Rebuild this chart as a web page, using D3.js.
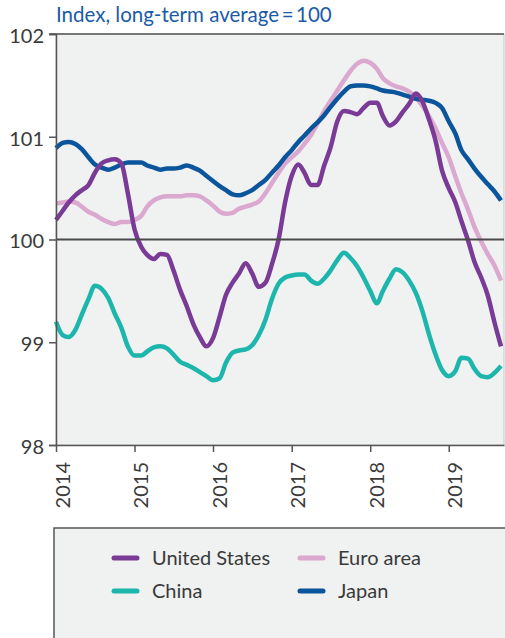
<!DOCTYPE html>
<html>
<head>
<meta charset="utf-8">
<script src="https://cdn.jsdelivr.net/npm/d3@7"></script>
<style>
  body { margin: 0; background: #fff; }
  svg { display: block; font-family: Lato, "Open Sans", sans-serif; }
</style>
</head>
<body>
<svg id="chart" width="505" height="638"></svg>
<script>
// monthly, Jan 2014 .. Sep 2019
const months = d3.timeMonth.range(new Date(2014, 0, 1), new Date(2019, 9, 1));

const usValues = [
  100.19, 100.28, 100.36, 100.43, 100.48, 100.53, 100.65, 100.74, 100.77, 100.78,
  100.74, 100.45, 100.10, 99.93, 99.85, 99.81, 99.86, 99.85, 99.70, 99.51,
  99.35, 99.18, 99.05, 98.96, 99.04, 99.25, 99.46, 99.58, 99.67, 99.77,
  99.67, 99.54, 99.58, 99.76, 100.00, 100.36, 100.62, 100.73, 100.65, 100.53,
  100.53, 100.72, 100.90, 101.15, 101.25, 101.24, 101.22, 101.28, 101.33, 101.33,
  101.20, 101.11, 101.15, 101.24, 101.32, 101.42, 101.34, 101.17, 100.96, 100.67,
  100.50, 100.36, 100.18, 99.99, 99.78, 99.63, 99.46, 99.20, 98.96
];
const euroValues = [
  100.35, 100.36, 100.37, 100.36, 100.32, 100.27, 100.24, 100.20, 100.17, 100.15,
  100.17, 100.17, 100.19, 100.23, 100.32, 100.38, 100.41, 100.42, 100.42, 100.42,
  100.43, 100.43, 100.42, 100.38, 100.33, 100.27, 100.25, 100.26, 100.30, 100.32,
  100.34, 100.37, 100.45, 100.55, 100.65, 100.74, 100.80, 100.86, 100.93, 101.02,
  101.13, 101.25, 101.35, 101.45, 101.55, 101.64, 101.71, 101.74, 101.72, 101.66,
  101.57, 101.52, 101.49, 101.47, 101.44, 101.38, 101.30, 101.20, 101.08, 100.94,
  100.80, 100.61, 100.45, 100.29, 100.12, 99.98, 99.86, 99.75, 99.60
];
const chinaValues = [
  99.20, 99.07, 99.05, 99.12, 99.27, 99.42, 99.55, 99.52, 99.43, 99.28,
  99.14, 98.96, 98.87, 98.87, 98.91, 98.95, 98.96, 98.94, 98.88, 98.81,
  98.78, 98.75, 98.71, 98.67, 98.63, 98.65, 98.80, 98.90, 98.92, 98.93,
  98.97, 99.07, 99.22, 99.42, 99.57, 99.63, 99.65, 99.66, 99.66, 99.60,
  99.57, 99.62, 99.70, 99.80, 99.87, 99.82, 99.74, 99.63, 99.50, 99.38,
  99.50, 99.62, 99.71, 99.68, 99.60, 99.48, 99.30, 99.08, 98.88, 98.73,
  98.67, 98.72, 98.85, 98.84, 98.74, 98.67, 98.66, 98.70, 98.77
];
const japanValues = [
  100.89, 100.94, 100.95, 100.93, 100.88, 100.80, 100.73, 100.70, 100.68, 100.70,
  100.73, 100.75, 100.75, 100.75, 100.72, 100.70, 100.68, 100.69, 100.69, 100.70,
  100.72, 100.70, 100.67, 100.62, 100.57, 100.52, 100.48, 100.44, 100.43, 100.45,
  100.48, 100.53, 100.58, 100.65, 100.72, 100.80, 100.87, 100.95, 101.01, 101.08,
  101.14, 101.21, 101.29, 101.37, 101.44, 101.49, 101.50, 101.50, 101.49, 101.47,
  101.45, 101.44, 101.43, 101.41, 101.39, 101.37, 101.36, 101.35, 101.33, 101.28,
  101.15, 101.03, 100.87, 100.78, 100.69, 100.61, 100.54, 100.47, 100.38
];

const yearTicks = ["2014", "2015", "2016", "2017", "2018", "2019"];
const valueTicks = [98, 99, 100, 101, 102];
const seriesNames = ["United States", "Euro area", "China", "Japan"];
const seriesColors = ["#7a3b96", "#dba8d0", "#1db6ac", "#0b559d"];

const series = [
  { name: seriesNames[0], values: usValues, color: seriesColors[0] },
  { name: seriesNames[1], values: euroValues, color: seriesColors[1] },
  { name: seriesNames[2], values: chinaValues, color: seriesColors[2] },
  { name: seriesNames[3], values: japanValues, color: seriesColors[3] },
];

const svg = d3.select("#chart");
const margin = { top: 34, right: 1, bottom: 193, left: 56 };
const width = +svg.attr("width") - margin.left - margin.right;
const height = +svg.attr("height") - margin.top - margin.bottom;

const x = d3.scaleTime()
  .domain([new Date(2014, 0, 1), new Date(2019, 8, 15)])
  .range([margin.left, margin.left + width]);
const y = d3.scaleLinear()
  .domain([98, 102])
  .range([margin.top + height, margin.top]);

// title
svg.append("text")
  .attr("x", 56)
  .attr("y", 22)
  .attr("fill", "#1b5ba6")
  .attr("font-size", 20.5)
  .text("Index, long-term average\u2009=\u2009100");

// plot background
svg.append("rect")
  .attr("x", margin.left)
  .attr("y", margin.top)
  .attr("width", width)
  .attr("height", height)
  .attr("fill", "#f0f1f1")
  .attr("stroke", "#c8c8c8");

// series
const line = d3.line()
  .x((d, i) => x(months[i]))
  .y((d) => y(d))
  .curve(d3.curveMonotoneX);

const drawOrder = [1, 2, 3, 0];
svg.append("g")
  .selectAll("path")
  .data(drawOrder.map((i) => series[i]))
  .join("path")
  .attr("d", (d) => line(d.values))
  .attr("fill", "none")
  .attr("stroke", (d) => d.color)
  .attr("stroke-width", 4.5)
  .attr("stroke-linejoin", "round")
  .attr("stroke-linecap", "butt");

// 100 reference line
svg.append("line")
  .attr("x1", margin.left)
  .attr("x2", margin.left + width)
  .attr("y1", y(100))
  .attr("y2", y(100))
  .attr("stroke", "#4a4a4a")
  .attr("stroke-width", 2);

// frame: top line
svg.append("line")
  .attr("x1", margin.left - 7)
  .attr("x2", margin.left + width)
  .attr("y1", margin.top)
  .attr("y2", margin.top)
  .attr("stroke", "#555")
  .attr("stroke-width", 1.5);

// y axis
const yAxis = svg.append("g")
  .attr("transform", `translate(${margin.left},0)`)
  .call(d3.axisLeft(y).tickValues(valueTicks).tickSize(7).tickFormat(d3.format("d")));
yAxis.select(".domain").attr("stroke", "#555").attr("stroke-width", 1.5);
yAxis.selectAll(".tick line").attr("stroke", "#555").attr("stroke-width", 1.5);
yAxis.selectAll(".tick text")
  .attr("x", -12)
  .attr("dy", "0.42em")
  .attr("fill", "#3a3a3a")
  .attr("font-size", 20)
  .attr("font-family", "Lato, 'Open Sans', sans-serif");

// x axis
const xAxis = svg.append("g")
  .attr("transform", `translate(0,${margin.top + height})`)
  .call(d3.axisBottom(x)
    .tickValues(yearTicks.map((yr) => new Date(+yr, 0, 1)))
    .tickSize(7)
    .tickSizeOuter(0)
    .tickFormat(d3.timeFormat("%Y")));
xAxis.select(".domain").attr("stroke", "#555").attr("stroke-width", 1.5);
xAxis.selectAll(".tick line").attr("stroke", "#555").attr("stroke-width", 1.5);
xAxis.selectAll(".tick text")
  .attr("transform", "translate(13,17) rotate(-90)")
  .attr("x", 0)
  .attr("y", 0)
  .attr("dy", 0)
  .attr("text-anchor", "end")
  .attr("fill", "#3a3a3a")
  .attr("font-size", 20)
  .attr("font-family", "Lato, 'Open Sans', sans-serif");

// legend box (open at the right and bottom)
svg.append("rect")
  .attr("x", 54)
  .attr("y", 528)
  .attr("width", 460)
  .attr("height", 120)
  .attr("fill", "#f0f1f1");
svg.append("path")
  .attr("d", "M54,640 L54,528 L507,528")
  .attr("fill", "none")
  .attr("stroke", "#555")
  .attr("stroke-width", 1.5);

const legendPos = [
  { x: 114, y: 558 },
  { x: 300, y: 558 },
  { x: 114, y: 591 },
  { x: 300, y: 591 },
];
const legend = svg.append("g")
  .selectAll("g")
  .data(series)
  .join("g")
  .attr("transform", (d, i) => `translate(${legendPos[i].x},${legendPos[i].y})`);
legend.append("line")
  .attr("x1", 0)
  .attr("x2", 23)
  .attr("stroke", (d) => d.color)
  .attr("stroke-width", 5)
  .attr("stroke-linecap", "round");
legend.append("text")
  .attr("x", 38)
  .attr("y", 7)
  .attr("fill", "#3a3a3a")
  .attr("font-size", 20)
  .text((d) => d.name);
</script>
</body>
</html>
